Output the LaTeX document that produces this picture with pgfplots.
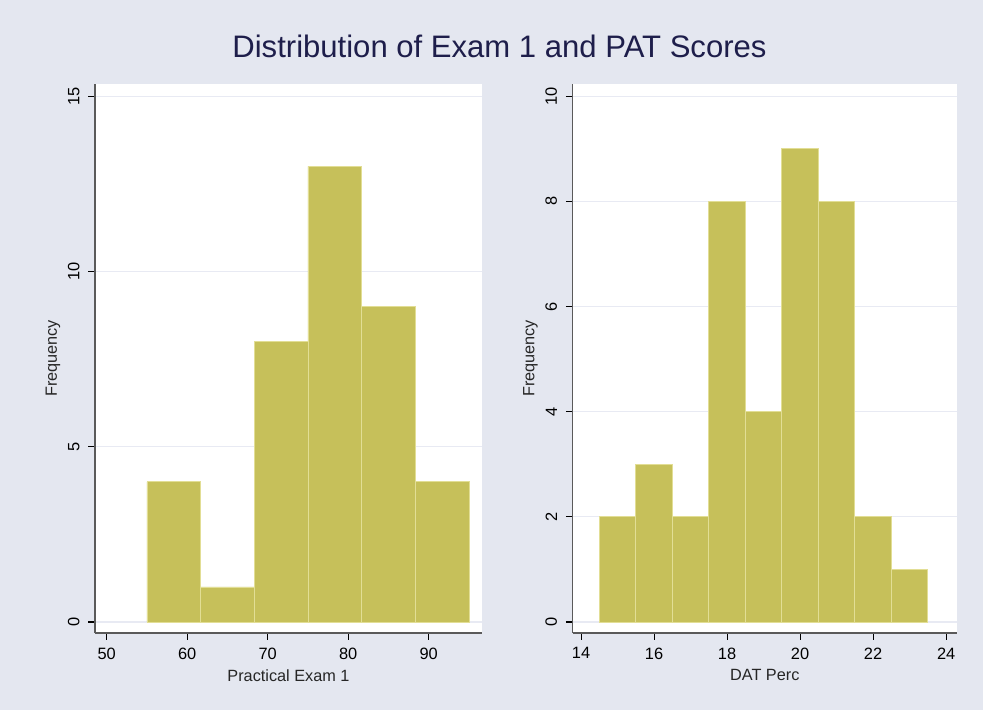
\documentclass[border=0pt]{standalone}
\usepackage{pgfplots}
\pgfplotsset{compat=1.18}
\usepackage{fontspec}
\setmainfont{Liberation Sans}
\definecolor{bgcol}{HTML}{E4E7F0}
\definecolor{barcol}{HTML}{C6C05A}
\definecolor{edgecol}{HTML}{E2DE95}
\definecolor{gridcol}{HTML}{E8EAF3}
\definecolor{titlecol}{HTML}{1E1E4B}
\definecolor{axcol}{HTML}{5A5A5A}
\pgfplotsset{
  hist/.style={
    scale only axis,
    axis background/.style={fill=white},
    axis x line*=bottom, axis y line*=left,
    axis line style={draw=axcol, line width=1.1pt},
    tick align=outside, major tick length=5pt,
    tick style={black, line width=0.8pt},
    xtick pos=bottom, ytick pos=left,
    ymajorgrids, grid style={gridcol, line width=0.9pt},
    yticklabel style={rotate=90, anchor=south, font=\fontsize{12.3}{14}\selectfont},
    xticklabel style={font=\fontsize{12.3}{14}\selectfont},
    yticklabel shift=3pt, xticklabel shift=2.5pt,
    label style={font=\fontsize{12.2}{14}\selectfont, text=black!85},
    ylabel={Frequency},
    xlabel style={yshift=-1pt},
    ylabel style={yshift=-1pt},
    /pgf/number format/assume math mode=true,
    minor tick num=0,
  }
}
\begin{document}
\begin{tikzpicture}
\fill[bgcol] (0pt,0pt) rectangle (737.25pt,532.5pt);
\node[font=\fontsize{23.3}{26}\selectfont, text=titlecol, anchor=base] at (374.6pt,489pt) {Distribution of Exam 1 and PAT Scores};
\begin{axis}[hist,
  at={(71.25pt,57.75pt)}, anchor=south west,
  width=290.25pt, height=412pt,
  xmin=48.55, xmax=96.62, ymin=-0.314, ymax=15.36,
  xtick={50,60,70,80,90}, ytick={0,5,10,15},
  xlabel={Practical Exam 1},
]
\addplot[ybar interval, fill=barcol, draw=edgecol, line width=0.6pt] coordinates {
(55,4) (61.667,1) (68.333,8) (75,13) (81.667,9) (88.333,4) (95,4)};
\end{axis}
\begin{axis}[hist,
  at={(429.4pt,57.75pt)}, anchor=south west,
  width=288.4pt, height=412pt,
  xmin=13.767, xmax=24.30, ymin=-0.209, ymax=10.24,
  xtick={14,16,18,20,22,24}, ytick={0,2,4,6,8,10},
  xlabel={DAT Perc},
]
\addplot[ybar interval, fill=barcol, draw=edgecol, line width=0.6pt] coordinates {
(14.5,2) (15.5,3) (16.5,2) (17.5,8) (18.5,4) (19.5,9) (20.5,8) (21.5,2) (22.5,1) (23.5,1)};
\end{axis}
\end{tikzpicture}
\end{document}
